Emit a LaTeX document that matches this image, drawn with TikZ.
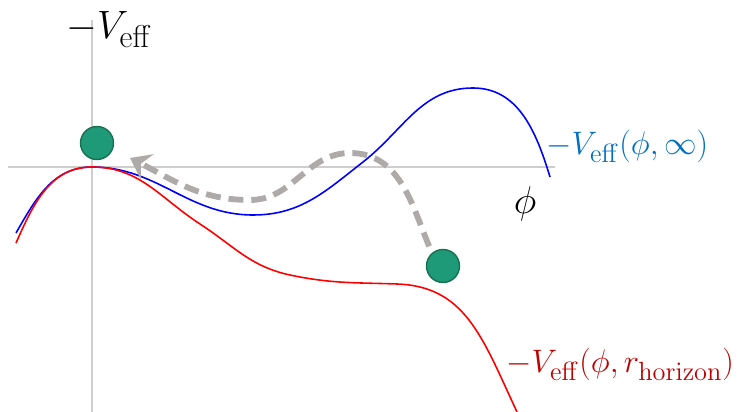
\RequirePackage{fix-cm}
\documentclass[tikz,border=0pt]{standalone}
\usepackage{amsmath,amssymb}
\usepackage{tikz}
\usetikzlibrary{positioning,arrows.meta}

\DeclareMathSizes{22.5}{22.5}{18}{14}
\DeclareMathSizes{18.5}{18.5}{15}{12}

\definecolor{axisgray}{HTML}{CFCDCD}
\definecolor{pathgray}{HTML}{AEAAAA}
\definecolor{ballgreen}{HTML}{1E9A78}
\definecolor{balledge}{HTML}{17704F}
\definecolor{infblue}{HTML}{0070C0}
\definecolor{horred}{HTML}{C00000}

\begin{document}
\begin{tikzpicture}[scale=1,
    axisline/.style={draw=axisgray,line width=0.9pt},
    ball/.style={circle,fill=ballgreen,draw=balledge,line width=0.8pt,minimum size=0.66cm,inner sep=0pt},
    rollpath/.style={pathgray,line width=3.3pt,dash pattern=on 8.5pt off 4.5pt},
    biglabel/.style={font=\fontsize{22.5}{27}\selectfont},
    curvelabel/.style={font=\fontsize{18.5}{22}\selectfont,anchor=base west,inner sep=0pt}]
  \useasboundingbox (-1.84,-4.9) rectangle (13.12,3.34);
  % axes
  \draw[axisline] (-1.68,0) -- (9.26,0);
  \draw[axisline] (0,2.94) -- (0,-4.9);
  \node[biglabel,anchor=base west,inner sep=0pt] (vlabel) at (-0.52,2.56) {$-V_{\mathrm{eff}}$};
  \node[font=\fontsize{22}{26}\selectfont] (philabel) at (8.66,-0.74) {$\phi$};
  % potentials
  \draw[blue,line width=0.9pt] (-1.52,-1.32) to[out=60,in=180] (0,0) to[out=0,in=180] (3.22,-0.96)
    to[out=0,in=218] (5.42,0.10) to[out=38,in=180] (7.62,1.58) to[out=0,in=107] (9.16,-0.20);
  \draw[red,line width=0.9pt] (-1.52,-1.52) to[out=66,in=180] (0,0) to[out=0,in=147] (2.16,-1.14)
    to[out=-33,in=168] (3.96,-2.16) to[out=-12,in=178] (6.1,-2.34) to[out=-2,in=115,in looseness=1.2] (8.50,-4.90);
  \node[curvelabel,text=infblue] (inflabel) at (9.08,0.24) {$-V_{\mathrm{eff}}(\phi,\infty)$};
  \node[curvelabel,text=horred] (horlabel) at (8.28,-4.12) {$-V_{\mathrm{eff}}(\phi,r_{\mathrm{horizon}})$};
  % balls and the path between them
  \node[ball] (top) at (0.10,0.48) {};
  \node[ball] (start) at (7.02,-1.98) {};
  \coordinate (tip) at (0.76,0.18);
  \draw[rollpath,shorten <=4pt,-{Stealth[length=11pt,width=16pt,inset=4pt]}] (start.130)
    to[out=113,in=0] (5.16,0.28) to[out=180,in=0] (3.16,-0.66) to[out=180,in=-27] (tip);
\end{tikzpicture}
\end{document}
